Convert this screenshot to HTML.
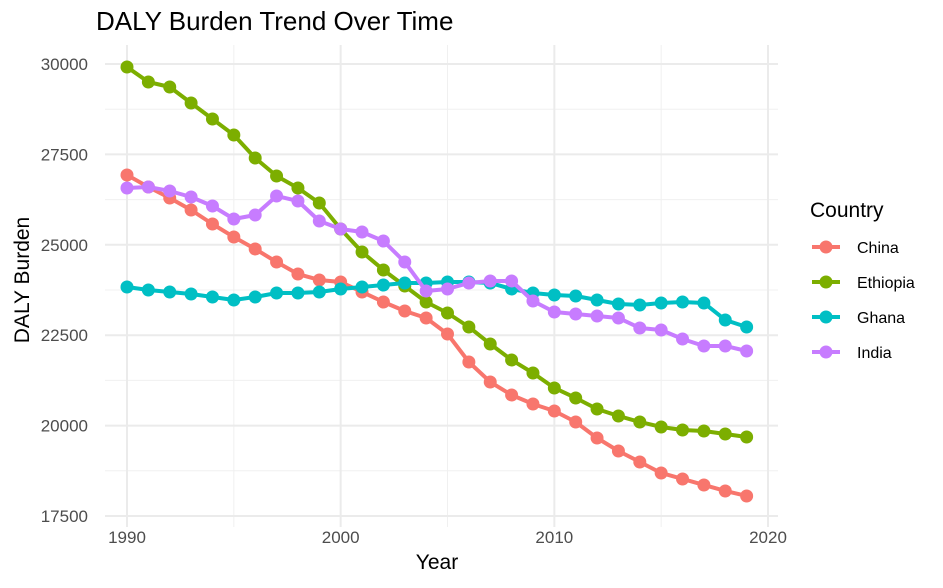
<!DOCTYPE html>
<html><head><meta charset="utf-8"><style>
body{margin:0;background:#fff;font-family:"Liberation Sans",Arial,sans-serif}
</style></head><body>
<svg id="c" width="943" height="583" xmlns="http://www.w3.org/2000/svg"></svg>
<script>
const years=[];for(let y=1990;y<=2019;y++)years.push(y);
const countries=["China","Ethiopia","Ghana","India"];
const colors=["#F8766D","#7CAE00","#00BFC4","#C77CFF"];
const china=[26930,26598,26294,25962,25575,25215,24884,24524,24192,24027,23971,23695,23418,23169,22976,22533,21759,21206,20846,20597,20404,20100,19657,19298,18994,18690,18524,18358,18192,18054];
const ethiopia=[29917,29502,29364,28921,28479,28036,27400,26903,26571,26156,25437,24801,24304,23861,23419,23114,22727,22257,21815,21455,21040,20764,20460,20266,20100,19962,19879,19851,19768,19685];
const ghana=[23833,23750,23695,23640,23557,23474,23557,23667,23667,23695,23778,23833,23888,23944,23944,23971,23971,23944,23778,23667,23612,23584,23474,23363,23336,23391,23418,23391,22921,22727];
const india=[26571,26598,26488,26322,26073,25713,25824,26350,26211,25658,25437,25354,25105,24524,23722,23778,23944,23999,23999,23446,23142,23087,23031,22976,22699,22644,22395,22202,22202,22063];
const series=[china,ethiopia,ghana,india];
const xTicks=[1990,2000,2010,2020];
const yTicks=[17500,20000,22500,25000,27500,30000];
const X=v=>127+(v-1990)*(768-127)/30;
const Y=v=>64+(30000-v)*(516-64)/12500;
const svg=document.getElementById('c');const NS="http://www.w3.org/2000/svg";
function el(t,a,p){const e=document.createElementNS(NS,t);for(const k in a)e.setAttribute(k,a[k]);(p||svg).appendChild(e);return e;}
const L=105,R=778,T=45,B=527;
for(let i=0;i<xTicks.length-1;i++){const g=el('line',{x1:X(xTicks[i]+5),x2:X(xTicks[i]+5),y1:T,y2:B,stroke:'#f0f0f0','stroke-width':1});

}
for(let i=0;i<yTicks.length-1;i++){const g=el('line',{x1:L,x2:R,y1:Y(yTicks[i]+1250),y2:Y(yTicks[i]+1250),stroke:'#f0f0f0','stroke-width':1});

}
xTicks.forEach(t=>{const g=el('line',{x1:X(t),x2:X(t),y1:T,y2:B,stroke:'#ebebeb','stroke-width':2});


const tx=el('text',{x:X(t),y:543,'text-anchor':'middle','font-size':17,fill:'#4d4d4d'});tx.textContent=t;

});
yTicks.forEach(t=>{const g=el('line',{x1:L,x2:R,y1:Y(t),y2:Y(t),stroke:'#ebebeb','stroke-width':2});


const tx=el('text',{x:88,y:Y(t)+6,'text-anchor':'end','font-size':17,fill:'#4d4d4d'});tx.textContent=t;

});
series.forEach((s,i)=>{const g=el('g',{});


const p=el('polyline',{points:s.map((v,j)=>X(years[j])+','+Y(v)).join(' '),fill:'none',stroke:colors[i],'stroke-width':4,'stroke-linejoin':'round'},g);


s.forEach((v,j)=>{const c=el('circle',{cx:X(years[j]),cy:Y(v),r:6.5,fill:colors[i]},g);

});});
const title=el('text',{x:96,y:30,'font-size':26,fill:'#000'});title.textContent='DALY Burden Trend Over Time';


const xt=el('text',{x:437,y:569,'text-anchor':'middle','font-size':21,fill:'#000'});xt.textContent='Year';


const yt=el('text',{x:0,y:0,'text-anchor':'middle','font-size':21,fill:'#000',transform:'translate(29,280) rotate(-90)'});yt.textContent='DALY Burden';


const lt=el('text',{x:810,y:217,'font-size':21,fill:'#000'});lt.textContent='Country';


countries.forEach((c,i)=>{const y=247+i*35;const g=el('g',{});


el('line',{x1:812,x2:840,y1:y,y2:y,stroke:colors[i],'stroke-width':4},g);
el('circle',{cx:826,cy:y,r:6.5,fill:colors[i]},g);
const t=el('text',{x:857,y:y+6,'font-size':16,fill:'#000'},g);t.textContent=c;});
</script>
</body></html>
